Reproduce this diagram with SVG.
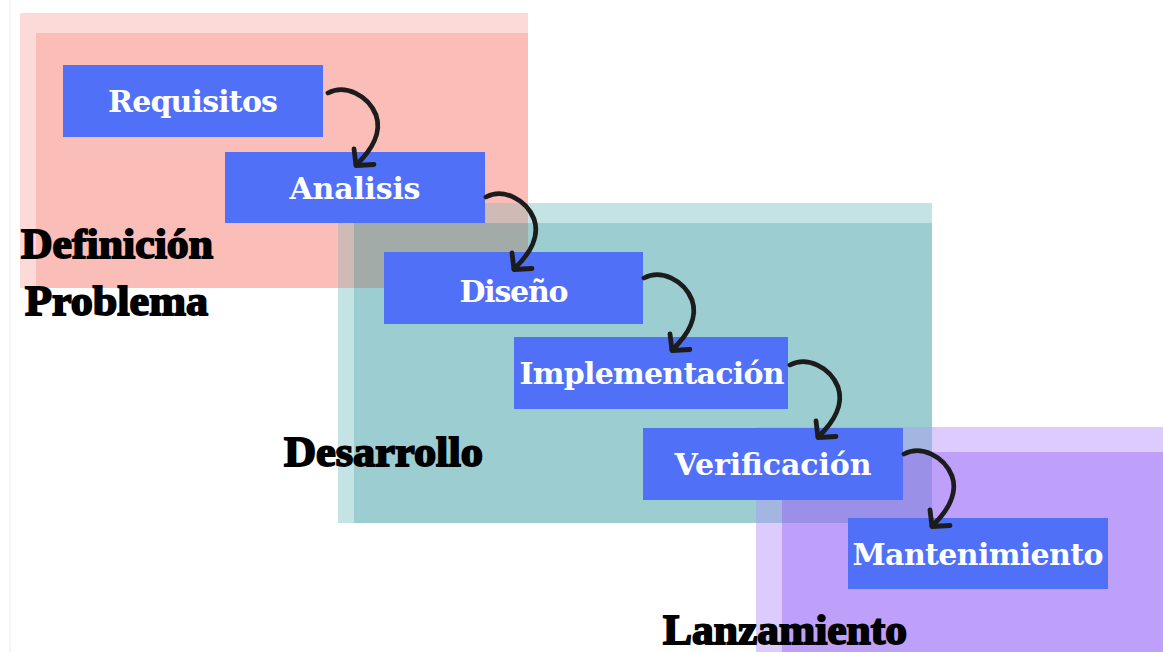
<svg xmlns="http://www.w3.org/2000/svg" xmlns:xlink="http://www.w3.org/1999/xlink" width="1163" height="652" viewBox="0 0 1163 652">
  <style>
    .box { fill: #5170f8; }
    .bt { fill: #ffffff; font-family: "DejaVu Serif", "Liberation Serif", serif; font-weight: bold; font-size: 30px; text-anchor: middle; }
    .lbl { fill: #000000; stroke: #000000; stroke-width: 1.8; font-family: "Liberation Serif", "DejaVu Serif", serif; font-weight: bold; font-size: 42px; }
    .arr { fill: none; stroke: #1c1c1c; stroke-width: 4.8; stroke-linecap: round; stroke-linejoin: round; }
  </style>
  <defs>
    <g id="arrow">
      <path class="arr" d="M328,93 C345,84 368,95 376,115 C382,132 372,150 356,165"/>
      <path class="arr" d="M354,149 L356,165.5 L374,164.5"/>
    </g>
  </defs>
  <rect width="1163" height="652" fill="#ffffff"/>
  <line x1="10" y1="0" x2="10" y2="652" stroke="#ececec" stroke-width="1"/>

  <g id="phase-definicion">
    <rect x="20" y="13" width="508" height="275" fill="#fcdad7"/>
    <rect x="36" y="33" width="492" height="255" fill="#fbbdb7"/>
  </g>
  <g id="phase-desarrollo">
    <rect x="338" y="203" width="594" height="320" fill="#c4e3e4"/>
    <rect x="354" y="223" width="578" height="300" fill="#9ccdd1"/>
    <rect x="338" y="203" width="190" height="85" fill="#cfbab5"/>
    <rect x="354" y="223" width="174" height="65" fill="#a3aba9"/>
  </g>
  <g id="phase-lanzamiento">
    <rect x="756" y="427" width="407" height="225" fill="#dccbfc"/>
    <rect x="782" y="452" width="381" height="200" fill="#be9ffa"/>
    <rect x="756" y="427" width="176" height="96" fill="#a3b6e2"/>
    <rect x="782" y="452" width="150" height="71" fill="#9b90e8"/>
  </g>

  <g id="label-definicion">
    <text class="lbl" x="21" y="258" textLength="192" lengthAdjust="spacingAndGlyphs">Definición</text>
    <text class="lbl" x="25" y="315" textLength="183" lengthAdjust="spacingAndGlyphs">Problema</text>
  </g>
  <g id="label-desarrollo">
    <text class="lbl" x="284" y="466" textLength="199" lengthAdjust="spacingAndGlyphs">Desarrollo</text>
  </g>
  <g id="label-lanzamiento">
    <text class="lbl" x="663" y="644" textLength="244" lengthAdjust="spacingAndGlyphs">Lanzamiento</text>
  </g>

  <g id="node-requisitos">
    <rect class="box" x="63" y="65" width="260" height="72"/>
    <text class="bt" x="193" y="112" textLength="170">Requisitos</text>
  </g>
  <g id="node-analisis">
    <rect class="box" x="225" y="152" width="260" height="71"/>
    <text class="bt" x="355" y="199" textLength="131">Analisis</text>
  </g>
  <g id="node-diseno">
    <rect class="box" x="384" y="252" width="259" height="72"/>
    <text class="bt" x="514" y="302" textLength="109">Diseño</text>
  </g>
  <g id="node-implementacion">
    <rect class="box" x="514" y="337" width="274" height="72"/>
    <text class="bt" x="652" y="384" textLength="265">Implementación</text>
  </g>
  <g id="node-verificacion">
    <rect class="box" x="643" y="428" width="260" height="72"/>
    <text class="bt" x="773" y="475" textLength="197">Verificación</text>
  </g>
  <g id="node-mantenimiento">
    <rect class="box" x="848" y="518" width="260" height="71"/>
    <text class="bt" x="978" y="565" textLength="251">Mantenimiento</text>
  </g>

  <g id="connectors">
    <use xlink:href="#arrow"/>
    <use xlink:href="#arrow" transform="translate(158,104)"/>
    <use xlink:href="#arrow" transform="translate(316,185)"/>
    <use xlink:href="#arrow" transform="translate(462,272)"/>
    <use xlink:href="#arrow" transform="translate(576,361)"/>
  </g>
</svg>
